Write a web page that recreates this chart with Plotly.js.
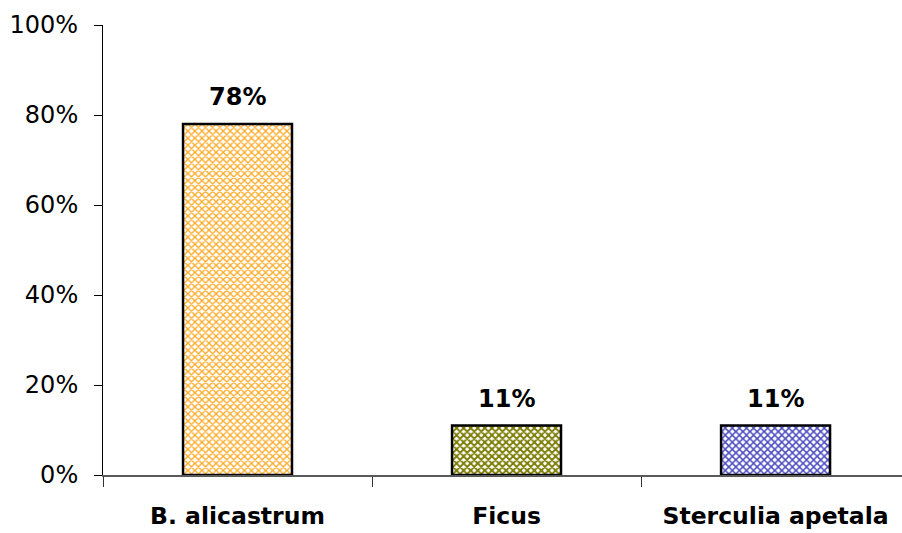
<!DOCTYPE html>
<html>
<head>
<meta charset="utf-8">
<script src="https://cdn.plot.ly/plotly-3.0.1.min.js"></script>
<style>
  html, body { margin: 0; padding: 0; background: #ffffff; }
  #chart { width: 902px; height: 533px; }
</style>
</head>
<body>
<div id="chart"></div>
<script>
// Share of each species
const species = ['B. alicastrum', 'Ficus', 'Sterculia apetala'];
const shares = [0.78, 0.11, 0.11];
const shareLabels = ['78%', '11%', '11%'];
const yTickVals = [0, 0.2, 0.4, 0.6, 0.8, 1.0];
const yTickText = ['0%', '20%', '40%', '60%', '80%', '100%'];

// Hatched fills for the three bars
const hatchColors = ['#ffa820', '#7a7a00', '#4c4cc0'];
const hatchSolidity = [0.45, 0.6, 0.5];

const traces = species.map((name, i) => ({
  type: 'bar',
  x: [name],
  y: [shares[i]],
  width: 0.405,
  hoverinfo: 'skip',
  marker: {
    color: '#ffffff',
    line: { color: '#000000', width: 2.5 },
    pattern: {
      shape: 'x',
      fgcolor: hatchColors[i],
      bgcolor: '#ffffff',
      size: 5,
      solidity: hatchSolidity[i],
      fillmode: 'replace'
    }
  },
  showlegend: false
}));

const annotations = species.map((name, i) => ({
  x: name,
  y: shares[i],
  xref: 'x',
  yref: 'y',
  text: '<b>' + shareLabels[i] + '</b>',
  showarrow: false,
  yanchor: 'bottom',
  yshift: 11,
  font: { family: 'DejaVu Sans', size: 24, color: '#000000' }
}));

const layout = {
  width: 902,
  height: 533,
  margin: { l: 103, r: 0, t: 25, b: 58 },
  paper_bgcolor: '#ffffff',
  plot_bgcolor: '#ffffff',
  font: { family: 'DejaVu Sans', color: '#000000' },
  bargap: 0.595,
  xaxis: {
    type: 'category',
    categoryorder: 'array',
    categoryarray: species,
    range: [-0.5, 2.47],
    showline: true,
    linecolor: '#5a5a5a',
    linewidth: 2,
    ticks: 'outside',
    tickson: 'boundaries',
    ticklen: 10,
    tickcolor: '#333333',
    tickwidth: 1,
    showgrid: false,
    zeroline: false,
    ticklabelstandoff: 19,
    tickfont: { family: 'DejaVu Sans', size: 23.5, color: '#000000', weight: 'bold' },
    fixedrange: true
  },
  yaxis: {
    range: [0, 1],
    tickvals: yTickVals,
    ticktext: yTickText,
    showline: true,
    linecolor: '#000000',
    linewidth: 1,
    ticks: 'outside',
    ticklen: 8,
    tickcolor: '#000000',
    showgrid: false,
    zeroline: false,
    ticklabelstandoff: 11,
    tickfont: { family: 'DejaVu Sans', size: 24, color: '#000000' },
    fixedrange: true
  },
  annotations: annotations
};

Plotly.newPlot('chart', traces, layout, { staticPlot: true, displayModeBar: false });
</script>
</body>
</html>
